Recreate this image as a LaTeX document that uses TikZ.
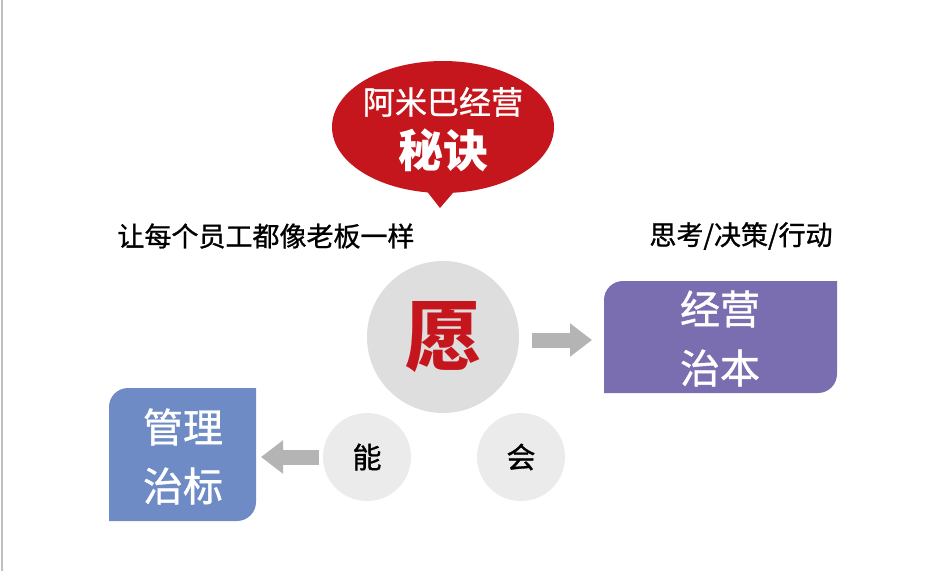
\documentclass[tikz,border=0pt]{standalone}
\usepackage{fontspec}
\newfontfamily\cjk{Noto Sans CJK SC}
\newfontfamily\cjkm[FakeBold=1]{Noto Sans CJK SC}
\usetikzlibrary{shapes.geometric,arrows.meta,positioning}
\definecolor{bubblered}{HTML}{C4161C}
\definecolor{circgray}{HTML}{DEDEDE}
\definecolor{smallgray}{HTML}{EBEBEB}
\definecolor{arrowgray}{HTML}{B4B4B4}
\definecolor{boxpurple}{HTML}{7A6DB0}
\definecolor{boxblue}{HTML}{6F8BC6}
\tikzset{
  ball/.style={circle, fill=circgray, inner sep=0pt},
  smallball/.style={circle, fill=smallgray, minimum size=88pt, inner sep=0pt, font=\cjkm\fontsize{29}{29}\selectfont},
  blockarrow/.style={draw=arrowgray, line width=15pt, -{Triangle[width=32pt,length=22pt]}},
  boxtext/.style={text=white, font=\cjkm\fontsize{40}{40}\selectfont},
  linetext/.style={font=\cjkm\fontsize{27}{27}\selectfont}
}
\begin{document}
\begin{tikzpicture}[x=1pt,y=-1pt]
\useasboundingbox (0,0) rectangle (945,571);
\fill[white] (0,0) rectangle (945,571);
\draw[gray!50, line width=1.5pt] (2,0) -- (2,571);

% speech bubble
\node[ellipse, fill=bubblered, minimum width=222pt, minimum height=132pt] (bubble) at (443,127) {};
\coordinate (tip) at (440,208);
\fill[bubblered] (418,180) -- (tip) -- (464,180) -- cycle;
\node[text=white, font=\cjkm\fontsize{32}{32}\selectfont] (title) at (443,102) {阿米巴经营};
\node[text=white, font=\cjk\bfseries\fontsize{45}{45}\selectfont] (secret) at (443,150) {秘诀};

% side texts
\node[linetext] (lefttext) at (266,236) {让每个员工都像老板一样};
\node[linetext] (righttext) at (741,236) {思考/决策/行动};

% circles
\node[ball, minimum size=152pt, text=bubblered, font=\cjk\bfseries\fontsize{76}{76}\selectfont] (wish) at (443,337) {愿};
\node[smallball] (can) at (367,457) {能};
\node[smallball] (will) at (521,457) {会};

% boxes
\fill[boxpurple] (604,393) -- (604,300) arc (180:270:19) -- (837,281) -- (837,374) arc (0:90:19) -- cycle;
\node[boxtext] (jy) at (720,309) {经营};
\node[boxtext] (zb) at (720,368) {治本};
\coordinate (rbox) at (604,340);

\fill[boxblue] (109,521) -- (109,407) arc (180:270:19) -- (256,388) -- (256,502) arc (0:90:19) -- cycle;
\node[boxtext] (gl) at (183,427) {管理};
\node[boxtext] (zbiao) at (183,486) {治标};
\coordinate (lbox) at (256,457);

% arrows
\draw[blockarrow] (532,340) -- ([xshift=-12pt]rbox);
\draw[blockarrow] (can.west) ++(-4,0) -- ([xshift=5pt]lbox);
\end{tikzpicture}
\end{document}
